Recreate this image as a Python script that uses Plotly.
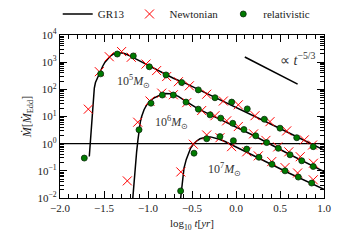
import numpy as np
import plotly.graph_objects as go

# ---------------- data (x = log10 t [yr], values = log10 Mdot/Mdot_Edd) ----------------
gr13_1e5_x = [-1.667, -1.656, -1.645, -1.633, -1.622, -1.61, -1.597, -1.58, -1.565, -1.54, -1.515, -1.489,
              -1.46, -1.43, -1.394, -1.36, -1.33, -1.29, -1.26, -1.2, -1.14, -1.09, -0.977, -0.864,
              -0.712, -0.56, -0.43, -0.2, 0.1, 0.5, 1.0]
gr13_1e5_log = [-0.47, 0.05, 0.6, 1.2, 1.73, 2.05, 2.25, 2.38, 2.49, 2.68, 2.85, 3.0,
                3.12, 3.22, 3.30, 3.34, 3.35, 3.34, 3.31, 3.22, 3.12, 3.03, 2.83, 2.65,
                2.41, 2.2, 2.0, 1.65, 1.18, 0.56, -0.24]

gr13_1e6_x = [-1.175, -1.15, -1.129, -1.115, -1.102, -1.087, -1.072, -1.045, -1.015, -0.98, -0.94, -0.89,
              -0.844, -0.8, -0.75, -0.7, -0.656, -0.55, -0.43, -0.2, 0.2, 0.6, 1.0]
gr13_1e6_log = [-2.1, -1.0, -0.29, 0.12, 0.51, 0.8, 1.0, 1.25, 1.43, 1.57, 1.67, 1.76,
                1.82, 1.845, 1.84, 1.8, 1.74, 1.52, 1.28, 0.92, 0.3, -0.38, -1.03]

gr13_1e7_x = [-0.632, -0.61, -0.591, -0.565, -0.542, -0.515, -0.485, -0.45, -0.409, -0.37, -0.333, -0.29,
              -0.25, -0.19, -0.125, 0.0, 0.1, 0.3, 0.6, 1.0]
gr13_1e7_log = [-2.1, -1.5, -0.9, -0.58, -0.35, -0.16, -0.02, 0.09, 0.18, 0.23, 0.25, 0.25,
                0.22, 0.16, 0.08, -0.12, -0.3, -0.6, -1.08, -1.68]

newt_1e5_x = [-1.678, -1.553, -1.44, -1.30, -1.19, -1.023, -0.902, -0.788, -0.655, -0.53, -0.333, -0.144,
              0.026, 0.216, 0.386, 0.576, 0.776, 0.87]
newt_1e5_log = [1.27, 2.65, 3.20, 3.39, 3.18, 2.93, 2.69, 2.47, 2.28, 2.13, 1.82, 1.57,
                1.43, 1.03, 0.81, 0.47, 0.14, -0.05]

rel_1e5_x = [-1.724, -1.538, -1.349, -1.167, -0.985, -0.795, -0.617, -0.428, -0.239, -0.049, 0.128, 0.322,
             0.5, 0.69, 0.878]
rel_1e5_log = [-0.53, 2.57, 3.30, 3.23, 2.83, 2.53, 2.25, 1.98, 1.69, 1.53, 1.28, 0.90,
               0.57, 0.22, -0.11]

newt_1e6_x = [-1.235, -1.117, -0.977, -0.844, -0.712, -0.56, -0.39, -0.239, -0.106, 0.026, 0.2, 0.34,
              0.474, 0.60, 0.73, 0.88]
newt_1e6_log = [-1.37, 0.79, 1.57, 1.86, 1.80, 1.51, 1.22, 1.03, 0.84, 0.63, 0.36, 0.12,
                -0.12, -0.30, -0.48, -0.72]

rel_1e6_x = [-1.102, -0.966, -0.837, -0.712, -0.568, -0.428, -0.295, -0.174, -0.037, 0.09, 0.224, 0.349,
             0.481, 0.614, 0.747, 0.878]
rel_1e6_log = [0.51, 1.49, 1.79, 1.79, 1.53, 1.27, 1.06, 0.94, 0.75, 0.52, 0.29, 0.04,
               -0.17, -0.41, -0.63, -0.84]

newt_1e7_x = [-0.627, -0.485, -0.333, -0.182, -0.05, 0.122, 0.253, 0.406, 0.557, 0.70, 0.878]
newt_1e7_log = [-1.04, -0.02, 0.32, 0.22, -0.11, -0.30, -0.45, -0.66, -0.88, -1.08, -1.33]

rel_1e7_x = [-0.629, -0.477, -0.333, -0.182, -0.03, 0.122, 0.261, 0.409, 0.557, 0.708, 0.86]
rel_1e7_log = [-1.74, -0.35, 0.18, 0.26, 0.11, -0.20, -0.50, -0.76, -1.0, -1.23, -1.45]

eddington_x = [-2.0, 1.0]
eddington_y = [1.0, 1.0]

slope_x = [0.10, 0.70]
slope_log = [3.19, 2.19]

mass_labels = ["10<sup>5</sup><i>M</i><sub>⊙</sub>", "10<sup>6</sup><i>M</i><sub>⊙</sub>",
               "10<sup>7</sup><i>M</i><sub>⊙</sub>"]
mass_label_x = [-1.17, -0.733, -0.136]
mass_label_log = [2.28, 0.79, -0.96]

x_ticks = [-2.0, -1.5, -1.0, -0.5, 0.0, 0.5, 1.0]
y_tick_vals = [1e-2, 1e-1, 1e0, 1e1, 1e2, 1e3, 1e4]
y_tick_text = ["10<sup>−2</sup>", "10<sup>−1</sup>", "10<sup>0</sup>", "10<sup>1</sup>",
               "10<sup>2</sup>", "10<sup>3</sup>", "10<sup>4</sup>"]

FONT = "Liberation Serif"


def lin(v):
    return np.power(10.0, np.array(v))


fig = go.Figure()

# GR13 curves
for i, (gx, gl) in enumerate([(gr13_1e5_x, gr13_1e5_log), (gr13_1e6_x, gr13_1e6_log),
                               (gr13_1e7_x, gr13_1e7_log)]):
    fig.add_trace(go.Scatter(x=gx, y=lin(gl), mode="lines", name="GR13",
                             line=dict(color="black", width=1.5),
                             showlegend=(i == 0), legendgroup="gr"))

# Eddington line
fig.add_trace(go.Scatter(x=eddington_x, y=eddington_y, mode="lines", showlegend=False,
                         line=dict(color="black", width=1.2)))
# slope guide
fig.add_trace(go.Scatter(x=slope_x, y=lin(slope_log), mode="lines", showlegend=False,
                         line=dict(color="black", width=1.5)))

# Newtonian
for i, (nx, nl) in enumerate([(newt_1e5_x, newt_1e5_log), (newt_1e6_x, newt_1e6_log),
                               (newt_1e7_x, newt_1e7_log)]):
    fig.add_trace(go.Scatter(x=nx, y=lin(nl), mode="markers", name="Newtonian",
                             marker=dict(symbol="x-thin", size=9, line=dict(color="red", width=1)),
                             showlegend=(i == 0), legendgroup="newt"))

# relativistic
for i, (rx, rl) in enumerate([(rel_1e5_x, rel_1e5_log), (rel_1e6_x, rel_1e6_log),
                               (rel_1e7_x, rel_1e7_log)]):
    fig.add_trace(go.Scatter(x=rx, y=lin(rl), mode="markers", name="relativistic",
                             marker=dict(symbol="circle", size=6, color="#007a00",
                                         line=dict(color="#0b2a0b", width=0.8)),
                             showlegend=(i == 0), legendgroup="rel"))

annotations = []
for txt, ax, al in zip(mass_labels, mass_label_x, mass_label_log):
    annotations.append(dict(x=ax, y=al, xref="x", yref="y", text=txt, showarrow=False,
                            font=dict(family=FONT, size=12, color="#333")))
annotations.append(dict(x=0.71, y=3.13, xref="x", yref="y", text="∝ <i>t</i><sup>−5/3</sup>",
                        showarrow=False, font=dict(family=FONT, size=14, color="#333")))

axis_common = dict(showline=True, linecolor="black", linewidth=1.2, mirror="allticks",
                   ticks="inside", tickcolor="black", showgrid=False, zeroline=False,
                   automargin=False,
                   tickfont=dict(family=FONT, size=11, color="#222"))

# the page body adds an 8px offset, so the figure is 8px smaller and margins shifted
fig.update_layout(
    template="none",
    width=334, height=232,
    margin=dict(l=52, r=18, t=27, b=42, autoexpand=False),
    paper_bgcolor="white", plot_bgcolor="white",
    font=dict(family=FONT, size=11, color="#222"),
    annotations=annotations,
    legend=dict(orientation="h", x=0.48, xanchor="center", y=1.04, yanchor="bottom",
                font=dict(family=FONT, size=11, color="#222"), bgcolor="rgba(0,0,0,0)",
                itemwidth=30, tracegroupgap=0),
    xaxis=dict(range=[-2.0, 1.0], tickvals=x_ticks, tickformat=".1f", ticklen=7, tickwidth=1,
               minor=dict(dtick=0.1, ticks="inside", ticklen=3.5, tickcolor="black", tickwidth=1),
               title=dict(text="log<sub>10</sub> <i>t</i>[<i>yr</i>]", font=dict(family=FONT, size=11),
                          standoff=6),
               **axis_common),
    yaxis=dict(type="log", range=[-2, 4], tickvals=y_tick_vals, ticktext=y_tick_text, ticklen=7,
               tickwidth=1,
               minor=dict(dtick="D1", ticks="inside", ticklen=3.5, tickcolor="black", tickwidth=1),
               title=dict(text="<i>Ṁ</i>[<i>Ṁ</i><sub>Edd</sub>]", font=dict(family=FONT, size=12),
                          standoff=3),
               **axis_common),
)

fig.write_html("out.html")
